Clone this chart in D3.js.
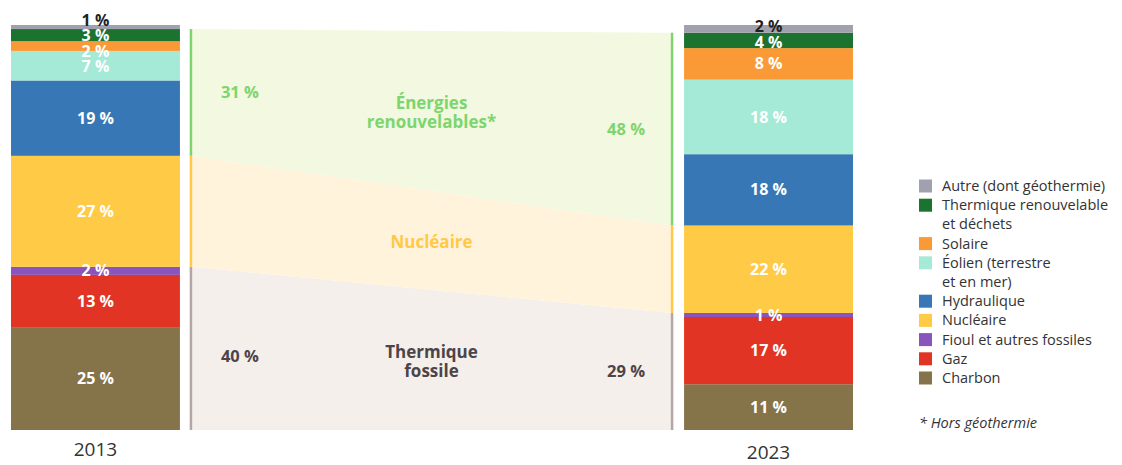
<!DOCTYPE html>
<html>
<head>
<meta charset="utf-8">
<script src="https://cdn.jsdelivr.net/npm/d3@7"></script>
<style>
  body { margin: 0; background: #fff; }
  svg { font-family: "Open Sans", Lato, sans-serif; }
</style>
</head>
<body>
<svg id="chart" width="1122" height="465"></svg>
<script>
// years and sources (bottom to top of each bar)
var years = ["2013", "2023"];
var sources = ["Charbon", "Gaz", "Fioul et autres fossiles", "Nucléaire", "Hydraulique",
  "Éolien (terrestre et en mer)", "Solaire", "Thermique renouvelable et déchets", "Autre (dont géothermie)"];
var colors = ["#857349", "#e13424", "#8955bd", "#ffca45", "#3777b5", "#a5ead6", "#fa9a37", "#1c722f", "#a0a0ae"];
var values2013 = [25.4, 12.9, 2.0, 27.4, 18.6, 7.3, 2.4, 3.0, 1.0];
var values2023 = [11.3, 16.6, 1.0, 21.6, 17.6, 18.4, 7.8, 3.8, 1.9];

// groups shown in the middle band
var groups = ["Thermique fossile", "Nucléaire", "Énergies renouvelables*"];
var groupMembers = [[0, 1, 2], [3], [4, 5, 6, 7]];
var groupLabels2013 = ["40 %", "", "31 %"];
var groupLabels2023 = ["29 %", "", "48 %"];
var groupColors = ["#b3a6a4", "#ffc947", "#7ed56f"];
var groupFills = ["#f4efeb", "#fff3dc", "#f2f9e0"];
var groupText = ["#4d4448", "#ffc947", "#7ed56f"];

// legend, top to bottom
var legendItems = ["Autre (dont géothermie)", "Thermique renouvelable|et déchets", "Solaire",
  "Éolien (terrestre|et en mer)", "Hydraulique", "Nucléaire", "Fioul et autres fossiles", "Gaz", "Charbon"];

var svg = d3.select("#chart");
var allValues = [values2013, values2023];

var x = d3.scaleBand().domain(years).range([11, 853]).paddingInner(0.749).paddingOuter(0);
var y = d3.scaleLinear().domain([0, 100]).range([430, 25]);
var bw = x.bandwidth();

// stack values per year
var stacks = allValues.map(function(vals) {
  var acc = 0;
  return vals.map(function(v, i) {
    var s = {i: i, v: v, y0: acc, y1: acc + v};
    acc += v;
    return s;
  });
});

// middle band
var bx0 = x("2013") + bw + 11, bx1 = x("2023") - 12;
var bands = svg.append("g");
groups.forEach(function(name, gi) {
  var m = groupMembers[gi];
  var l0 = stacks[0][m[0]].y0, l1 = stacks[0][m[m.length - 1]].y1;
  var r0 = stacks[1][m[0]].y0, r1 = stacks[1][m[m.length - 1]].y1;
  bands.append("polygon")
    .attr("points", [[bx0, y(l1)], [bx1, y(r1)], [bx1, y(r0)], [bx0, y(l0)]].join(" "))
    .attr("fill", groupFills[gi]);
  bands.append("line").attr("x1", bx0).attr("x2", bx0).attr("y1", y(l0)).attr("y2", y(l1))
    .attr("stroke", groupColors[gi]).attr("stroke-width", 2.5);
  bands.append("line").attr("x1", bx1).attr("x2", bx1).attr("y1", y(r0)).attr("y2", y(r1))
    .attr("stroke", groupColors[gi]).attr("stroke-width", 2.5);

  bands.append("text").attr("x", bx0 + 49).attr("y", y((l0 + l1) / 2) + (gi === 0 ? 8 : 0)).attr("dy", "0.35em")
    .attr("text-anchor", "middle").attr("font-weight", "bold").attr("font-size", 16.5)
    .attr("fill", groupText[gi]).text(groupLabels2013[gi]);
  bands.append("text").attr("x", bx1 - 46).attr("y", y((r0 + r1) / 2)).attr("dy", "0.35em")
    .attr("text-anchor", "middle").attr("font-weight", "bold").attr("font-size", 16.5)
    .attr("fill", groupText[gi]).text(groupLabels2023[gi]);

  var mid = y((l0 + l1 + r0 + r1) / 4);
  var lines = name === "Énergies renouvelables*" ? ["Énergies", "renouvelables*"]
            : name === "Thermique fossile" ? ["Thermique", "fossile"] : [name];
  var t = bands.append("text").attr("text-anchor", "middle").attr("font-weight", "bold")
    .attr("font-size", 17).attr("fill", groupText[gi]);
  lines.forEach(function(s, k) {
    t.append("tspan").attr("x", (bx0 + bx1) / 2)
      .attr("y", mid + 2 + (k - (lines.length - 1) / 2) * 19).attr("dy", "0.35em").text(s);
  });
});

// bars
years.forEach(function(yr, yi) {
  var g = svg.append("g");
  g.selectAll("rect").data(stacks[yi]).enter().append("rect")
    .attr("x", x(yr)).attr("width", bw)
    .attr("y", function(d) { return y(d.y1); })
    .attr("height", function(d) { return y(d.y0) - y(d.y1); })
    .attr("fill", function(d) { return colors[d.i]; });

  // label positions, relaxed so they do not overlap
  var pos = stacks[yi].map(function(d) { return y((d.y0 + d.y1) / 2); });
  var gap = 15.5;
  for (var it = 0; it < 50; it++) {
    for (var k = 0; k < pos.length - 1; k++) {
      var diff = pos[k] - pos[k + 1];
      if (diff < gap) {
        var push = (gap - diff) / 2;
        pos[k] += push; pos[k + 1] -= push;
      }
    }
  }
  g.selectAll("text.val").data(stacks[yi]).enter().append("text")
    .attr("class", "val")
    .attr("x", x(yr) + bw / 2)
    .attr("y", function(d, k) { return pos[k]; })
    .attr("dy", "0.35em")
    .attr("text-anchor", "middle").attr("font-weight", "bold").attr("font-size", 16)
    .attr("fill", function(d) { return d.i === 8 ? "#222" : "#fff"; })
    .text(function(d) { return Math.round(d.v) + " %"; });

  g.append("text").attr("x", x(yr) + bw / 2).attr("y", yi === 0 ? 456 : 459)
    .attr("text-anchor", "middle").attr("font-size", 19).attr("fill", "#333").text(yr);
});

// legend
var lg = svg.append("g").attr("transform", "translate(919,0)");
var row = 0;
legendItems.forEach(function(item, k) {
  var parts = item.split("|");
  var cy = 186 + row * 19.2;
  lg.append("rect").attr("x", 0).attr("y", cy - 6.5).attr("width", 13).attr("height", 13)
    .attr("fill", colors[colors.length - 1 - k]);
  parts.forEach(function(p, j) {
    lg.append("text").attr("x", 23).attr("y", cy + j * 19.2).attr("dy", "0.35em")
      .attr("font-size", 14.5).attr("fill", "#333").text(p);
  });
  row += parts.length;
});
lg.append("text").attr("x", 0).attr("y", 423).attr("dy", "0.35em").attr("font-size", 14.5)
  .attr("font-style", "italic").attr("fill", "#333").text("* Hors géothermie");
</script>
</body>
</html>
